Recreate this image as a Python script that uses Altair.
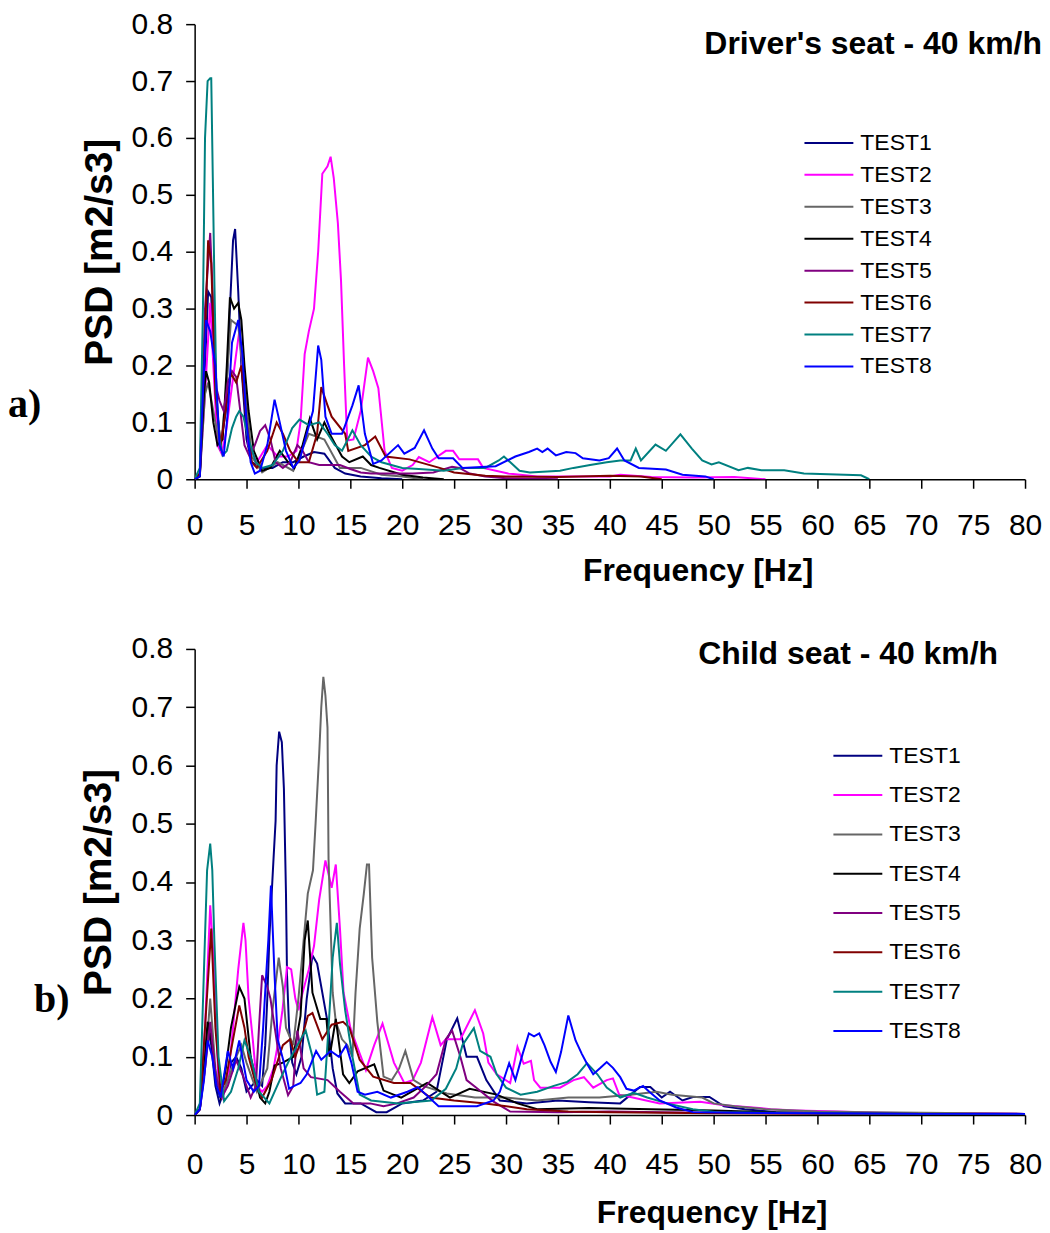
import altair as alt
import pandas as pd

SERIES = ["TEST1", "TEST2", "TEST3", "TEST4", "TEST5", "TEST6", "TEST7", "TEST8"]
COLORS = ["#000080", "#FF00FF", "#666666", "#000000", "#800080", "#800000", "#008080", "#0000FF"]
TITLE_A = "Driver's seat - 40 km/h"
TITLE_B = "Child seat - 40 km/h"
X_TICKS = list(range(0, 81, 5))
Y_TICKS = [0, 0.1, 0.2, 0.3, 0.4, 0.5, 0.6, 0.7, 0.8]

# ---------------- a) Driver's seat ----------------
D1_F = [0, 0.5, 1.0, 1.3, 1.6, 2.0, 2.5, 3.0, 3.4, 3.7, 3.9, 4.2, 4.5, 5.0, 5.5, 6.5, 7.5, 8.5, 9.5, 10.5, 11.5, 12.5, 13.5, 14.5, 16, 18, 20]
D1_V = [0, 0.01, 0.2, 0.33, 0.32, 0.15, 0.06, 0.12, 0.3, 0.42, 0.44, 0.33, 0.2, 0.07, 0.03, 0.02, 0.02, 0.03, 0.03, 0.04, 0.048, 0.045, 0.02, 0.01, 0.005, 0.002, 0]

D2_F = [0, 0.5, 1.0, 1.5, 1.8, 2.2, 2.6, 3.0, 3.5, 4.0, 4.3, 4.7, 5.2, 6.0, 7.0, 8.0, 9.0, 9.8, 10.2, 10.6, 11.0, 11.5, 11.9, 12.3, 12.8, 13.1, 13.4, 13.8, 14.1, 14.4, 14.7, 15.3, 16.0, 16.7, 17.2, 17.7, 18.3, 19, 20, 21, 21.6, 22.6, 24.2, 24.9, 25.5, 27.3, 27.8, 30.2, 33, 40, 41, 44, 48, 52, 55]
D2_V = [0, 0.01, 0.15, 0.31, 0.2, 0.06, 0.045, 0.08, 0.15, 0.22, 0.26, 0.18, 0.06, 0.03, 0.06, 0.04, 0.04, 0.05, 0.1, 0.22, 0.26, 0.30, 0.40, 0.537, 0.55, 0.567, 0.53, 0.45, 0.35, 0.2, 0.068, 0.07, 0.12, 0.214, 0.19, 0.16, 0.05, 0.02, 0.015, 0.025, 0.039, 0.03, 0.05, 0.05, 0.035, 0.035, 0.02, 0.01, 0.005, 0.005, 0.008, 0.004, 0.003, 0.004, 0]

D3_F = [0, 0.5, 1.0, 1.3, 2.0, 2.5, 3.0, 3.5, 4.2, 4.8, 5.5, 6.5, 8.0, 9.5, 11.0, 12.5, 14, 16, 18, 20, 22]
D3_V = [0, 0.005, 0.15, 0.17, 0.1, 0.05, 0.15, 0.28, 0.27, 0.17, 0.04, 0.012, 0.03, 0.015, 0.08, 0.07, 0.02, 0.02, 0.008, 0.005, 0]

D4_F = [0, 0.5, 0.9, 1.1, 1.4, 1.8, 2.2, 2.7, 3.1, 3.4, 3.8, 4.2, 4.5, 4.8, 5.2, 5.7, 6.5, 7.3, 8.2, 9.0, 9.6, 10.4, 11.1, 11.8, 12.5, 13.0, 13.6, 14.2, 14.9, 16.2, 17.0, 17.8, 20, 22, 24]
D4_V = [0, 0.005, 0.15, 0.19, 0.17, 0.1, 0.06, 0.07, 0.2, 0.32, 0.3, 0.31, 0.28, 0.2, 0.12, 0.05, 0.015, 0.02, 0.05, 0.03, 0.02, 0.06, 0.107, 0.07, 0.1, 0.08, 0.06, 0.04, 0.03, 0.04, 0.025, 0.02, 0.008, 0.003, 0]

D5_F = [0, 0.5, 1.0, 1.5, 1.8, 2.1, 2.4, 2.8, 3.2, 3.6, 4.0, 4.4, 4.8, 5.3, 5.8, 6.3, 6.8, 7.3, 7.8, 8.5, 9.2, 9.9, 10.4, 11, 12, 13, 14, 15, 16, 17, 19, 21, 23, 24.8, 25.5, 26.5, 28, 30, 35]
D5_V = [0, 0.01, 0.3, 0.433, 0.3, 0.16, 0.138, 0.12, 0.17, 0.19, 0.18, 0.12, 0.06, 0.04, 0.06, 0.085, 0.095, 0.07, 0.03, 0.02, 0.03, 0.06, 0.05, 0.03, 0.025, 0.025, 0.025, 0.018, 0.012, 0.01, 0.01, 0.01, 0.012, 0.022, 0.02, 0.01, 0.005, 0.002, 0]

D6_F = [0, 0.5, 1.0, 1.3, 1.6, 2.0, 2.5, 3.0, 3.5, 4.0, 4.5, 5.0, 5.5, 6.0, 7.0, 7.9, 8.5, 9.2, 10, 11, 11.8, 12.2, 12.8, 13.2, 14.5, 14.8, 16.4, 17.4, 18.4, 20.7, 23.6, 25, 28, 30, 35, 40, 43, 45]
D6_V = [0, 0.01, 0.25, 0.42, 0.38, 0.15, 0.06, 0.12, 0.186, 0.17, 0.2, 0.1, 0.03, 0.02, 0.05, 0.1, 0.08, 0.05, 0.03, 0.03, 0.08, 0.162, 0.13, 0.11, 0.08, 0.05, 0.06, 0.075, 0.04, 0.035, 0.02, 0.012, 0.006, 0.005, 0.004, 0.006, 0.005, 0]

D7_F = [0, 0.5, 0.8, 1.0, 1.25, 1.5, 1.6, 1.75, 1.9, 2.1, 2.4, 2.7, 3.1, 3.6, 4.0, 4.3, 4.7, 5.2, 5.9, 6.5, 7.5, 8.5, 9.4, 10.1, 11, 12, 12.8, 13.5, 14.2, 15.2, 16, 17, 18, 20, 21.6, 24, 25.8, 28, 29.3, 29.8, 31.3, 32.3, 35.2, 36.5, 38.1, 39.7, 41.0, 42.0, 42.5, 43.0, 44.4, 45.4, 46.8, 47.9, 48.9, 49.8, 50.5, 52.4, 53.3, 54.6, 56.8, 58.7, 64.2, 65]
D7_V = [0, 0.02, 0.3, 0.6, 0.7, 0.705, 0.705, 0.53, 0.35, 0.15, 0.07, 0.042, 0.05, 0.09, 0.11, 0.12, 0.11, 0.07, 0.03, 0.02, 0.025, 0.05, 0.09, 0.105, 0.095, 0.1, 0.08, 0.06, 0.05, 0.086, 0.06, 0.04, 0.03, 0.02, 0.018, 0.015, 0.02, 0.02, 0.033, 0.04, 0.015, 0.012, 0.015, 0.02, 0.025, 0.03, 0.033, 0.033, 0.054, 0.033, 0.061, 0.05, 0.079, 0.054, 0.033, 0.026, 0.03, 0.016, 0.02, 0.016, 0.016, 0.01, 0.007, 0]

D8_F = [0, 0.5, 0.8, 1.1, 1.5, 2.0, 2.4, 2.8, 3.2, 3.6, 4.2, 4.6, 5.0, 5.4, 5.8, 6.3, 7.0, 7.7, 8.2, 8.8, 9.5, 10.1, 11.4, 11.9, 12.2, 12.6, 13.2, 14.2, 15.2, 15.8, 16.4, 17.2, 18.0, 19.6, 20.2, 21.2, 22.1, 22.9, 23.5, 24.9, 25.8, 29.0, 30.9, 32.2, 33.0, 33.5, 34.0, 34.8, 35.8, 36.7, 37.4, 39.0, 39.9, 40.7, 41.4, 42.8, 45.4, 47.0, 49.2, 50]
D8_V = [0, 0.005, 0.15, 0.28, 0.26, 0.2, 0.06, 0.04, 0.12, 0.24, 0.28, 0.22, 0.1, 0.03, 0.01, 0.015, 0.06, 0.14, 0.1, 0.05, 0.02, 0.033, 0.12, 0.235, 0.21, 0.11, 0.08, 0.08, 0.13, 0.165, 0.08, 0.027, 0.033, 0.06, 0.045, 0.055, 0.086, 0.054, 0.037, 0.037, 0.02, 0.023, 0.04, 0.048, 0.054, 0.048, 0.054, 0.042, 0.048, 0.046, 0.037, 0.033, 0.037, 0.054, 0.033, 0.02, 0.017, 0.008, 0.005, 0]

# ---------------- b) Child seat ----------------
C1_F = [0, 0.5, 1.0, 1.25, 1.6, 2.0, 2.4, 3.0, 3.5, 4.0, 4.5, 5.0, 5.5, 6.0, 6.5, 6.8, 7.0, 7.2, 7.6, 7.8, 7.9, 8.14, 8.4, 8.6, 8.8, 8.9, 9.1, 9.4, 9.8, 10.3, 10.8, 11.35, 11.8, 12.3, 12.8, 13.3, 13.75, 14.5, 16, 17.5, 18.5, 20, 22, 23.3, 24.3, 25.3, 26.2, 27.2, 28.1, 29.4, 32, 35, 38, 41, 42.9, 43.9, 45, 45.8, 47, 48, 49.6, 51, 53, 56, 60, 70, 80]
C1_V = [0, 0.01, 0.1, 0.15, 0.12, 0.05, 0.02, 0.05, 0.09, 0.1, 0.08, 0.04, 0.05, 0.06, 0.05, 0.12, 0.2, 0.305, 0.44, 0.505, 0.6, 0.658, 0.64, 0.56, 0.38, 0.24, 0.15, 0.09, 0.07, 0.1, 0.2, 0.274, 0.26, 0.21, 0.16, 0.08, 0.037, 0.02, 0.02, 0.005, 0.005, 0.02, 0.025, 0.04, 0.13, 0.166, 0.1, 0.1, 0.06, 0.025, 0.02, 0.025, 0.022, 0.02, 0.048, 0.048, 0.03, 0.04, 0.025, 0.031, 0.031, 0.015, 0.01, 0.005, 0.004, 0.003, 0.002]

C2_F = [0, 0.5, 1.0, 1.5, 1.9, 2.3, 2.7, 3.2, 3.7, 4.2, 4.7, 4.9, 5.2, 5.6, 6.0, 6.5, 7.0, 7.6, 8.0, 8.46, 8.9, 9.3, 9.7, 10.0, 10.4, 11.0, 11.5, 12.0, 12.6, 13.2, 13.6, 14.0, 14.35, 15.0, 15.5, 16.5, 17.3, 18.1, 19.2, 20.2, 21.0, 21.8, 22.9, 23.7, 24.2, 25.6, 27.0, 27.8, 28.3, 29.1, 30.4, 31.1, 31.7, 32.4, 32.7, 33.3, 35.2, 36.5, 37.5, 38.4, 39.7, 40.3, 40.9, 42.2, 44.8, 48.7, 51, 54.4, 55.5, 58, 62, 66, 70, 75, 80]
C2_V = [0, 0.01, 0.15, 0.36, 0.25, 0.05, 0.03, 0.06, 0.15, 0.25, 0.33, 0.3, 0.2, 0.13, 0.05, 0.04, 0.05, 0.08, 0.12, 0.18, 0.254, 0.25, 0.2, 0.18, 0.21, 0.25, 0.29, 0.37, 0.437, 0.39, 0.43, 0.32, 0.21, 0.15, 0.125, 0.077, 0.12, 0.157, 0.09, 0.055, 0.06, 0.09, 0.168, 0.12, 0.13, 0.13, 0.18, 0.14, 0.09, 0.07, 0.055, 0.117, 0.088, 0.093, 0.06, 0.047, 0.047, 0.06, 0.065, 0.047, 0.06, 0.063, 0.035, 0.03, 0.02, 0.023, 0.017, 0.012, 0.01, 0.008, 0.006, 0.004, 0.003, 0.003, 0.002]

C3_F = [0, 0.5, 1.0, 1.5, 2.0, 2.5, 3.0, 4.0, 4.5, 5.0, 6.0, 7.0, 7.5, 8.1, 8.5, 8.8, 9.5, 10.0, 10.5, 10.9, 11.4, 11.65, 12.0, 12.2, 12.4, 12.6, 12.8, 12.9, 13.3, 13.6, 14.2, 14.7, 15.2, 15.5, 15.9, 16.3, 16.6, 16.8, 17.1, 17.6, 18.2, 19.0, 19.7, 20.3, 21.1, 22, 24.3, 27, 30, 33, 36, 39, 42, 44.5, 46, 48.9, 50, 52, 55, 60, 65, 70, 75, 80]
C3_V = [0, 0.01, 0.08, 0.2, 0.08, 0.03, 0.05, 0.1, 0.12, 0.09, 0.04, 0.08, 0.18, 0.27, 0.22, 0.15, 0.12, 0.2, 0.3, 0.38, 0.42, 0.5, 0.62, 0.7, 0.752, 0.72, 0.665, 0.44, 0.21, 0.16, 0.13, 0.12, 0.1, 0.21, 0.32, 0.38, 0.43, 0.43, 0.27, 0.16, 0.066, 0.06, 0.08, 0.11, 0.06, 0.05, 0.037, 0.03, 0.03, 0.025, 0.03, 0.03, 0.035, 0.04, 0.035, 0.03, 0.02, 0.015, 0.01, 0.006, 0.005, 0.004, 0.003, 0.002]

C4_F = [0, 0.5, 1.0, 1.25, 1.7, 2.1, 2.5, 3.0, 3.5, 4.3, 4.8, 5.4, 6.3, 6.8, 7.2, 7.7, 8.5, 9.5, 10.2, 10.6, 10.9, 11.35, 12.1, 12.7, 13.0, 13.6, 14.3, 14.9, 15.7, 17.3, 18.2, 19.9, 22.4, 24.6, 26.5, 29.1, 31.1, 33, 38, 44, 50, 55, 60, 70, 80]
C4_V = [0, 0.01, 0.1, 0.16, 0.12, 0.05, 0.03, 0.08, 0.15, 0.22, 0.2, 0.1, 0.03, 0.02, 0.04, 0.085, 0.09, 0.1, 0.17, 0.3, 0.334, 0.21, 0.165, 0.165, 0.1, 0.165, 0.07, 0.055, 0.075, 0.087, 0.042, 0.03, 0.055, 0.03, 0.045, 0.035, 0.02, 0.01, 0.012, 0.01, 0.008, 0.005, 0.003, 0.002, 0.002]

C5_F = [0, 0.5, 1.0, 1.5, 2.0, 2.6, 3.2, 4.0, 4.6, 5.4, 5.9, 6.2, 6.5, 7.0, 7.3, 7.8, 8.3, 9.0, 9.5, 9.9, 10.5, 11.2, 12.8, 14.0, 15.3, 16.9, 18.2, 19.5, 21.1, 22.3, 23.3, 24.2, 24.8, 25.6, 26.2, 27.2, 28.8, 30.4, 35, 40, 45, 50, 60, 70, 80]
C5_V = [0, 0.01, 0.08, 0.16, 0.07, 0.03, 0.05, 0.094, 0.07, 0.03, 0.05, 0.15, 0.24, 0.22, 0.2, 0.14, 0.08, 0.034, 0.05, 0.145, 0.08, 0.065, 0.06, 0.04, 0.02, 0.02, 0.015, 0.02, 0.03, 0.05, 0.07, 0.13, 0.145, 0.1, 0.06, 0.046, 0.023, 0.006, 0.005, 0.006, 0.005, 0.004, 0.003, 0.002, 0.002]

C6_F = [0, 0.5, 1.0, 1.6, 2.0, 2.5, 3.0, 3.6, 4.3, 4.8, 5.2, 5.8, 6.5, 7.4, 8.5, 9.2, 9.7, 10.3, 10.9, 11.35, 12.3, 13.2, 14.3, 14.9, 15.9, 17.2, 19.2, 20.8, 22.7, 25, 28, 32, 36, 40, 45, 50, 60, 70, 80]
C6_V = [0, 0.01, 0.15, 0.32, 0.15, 0.04, 0.06, 0.12, 0.188, 0.15, 0.1, 0.06, 0.03, 0.06, 0.12, 0.13, 0.1, 0.13, 0.17, 0.175, 0.13, 0.155, 0.16, 0.15, 0.095, 0.066, 0.055, 0.055, 0.03, 0.025, 0.02, 0.01, 0.006, 0.005, 0.004, 0.003, 0.002, 0.002, 0.002]

C7_F = [0, 0.5, 0.9, 1.2, 1.5, 1.7, 1.9, 2.3, 2.84, 3.5, 4.2, 4.8, 5.4, 6.2, 7.2, 8.2, 9.0, 9.9, 10.7, 11.35, 11.8, 12.5, 12.9, 13.3, 13.7, 14.0, 14.5, 15.2, 15.9, 17.0, 19.6, 22.8, 24.2, 25.2, 25.8, 26.9, 27.5, 28.5, 29.1, 30.0, 31.4, 33.0, 34.6, 35.9, 36.9, 37.8, 38.8, 39.7, 41.0, 42.3, 43.6, 45.5, 48, 50.3, 55, 60, 70, 80]
C7_V = [0, 0.02, 0.25, 0.42, 0.466, 0.42, 0.3, 0.1, 0.024, 0.04, 0.08, 0.128, 0.1, 0.04, 0.02, 0.06, 0.09, 0.12, 0.145, 0.1, 0.035, 0.04, 0.15, 0.27, 0.33, 0.26, 0.18, 0.1, 0.035, 0.025, 0.02, 0.025, 0.045, 0.08, 0.12, 0.149, 0.11, 0.1, 0.07, 0.047, 0.035, 0.04, 0.05, 0.057, 0.07, 0.089, 0.07, 0.047, 0.03, 0.038, 0.03, 0.02, 0.01, 0.005, 0.004, 0.003, 0.002, 0.002]

C8_F = [0, 0.5, 0.9, 1.25, 1.7, 2.1, 2.5, 3.2, 3.7, 4.3, 5.0, 5.7, 6.2, 6.6, 6.9, 7.1, 7.35, 7.7, 8.0, 8.6, 9.1, 9.6, 10.2, 10.8, 11.7, 12.2, 13.1, 13.9, 14.6, 15.1, 15.7, 16.4, 17.6, 18.9, 20.5, 21.5, 23.5, 25.6, 27.2, 28.8, 29.4, 30.3, 30.9, 31.6, 32.2, 32.7, 33.2, 33.7, 34.3, 34.8, 35.3, 36.0, 36.7, 37.3, 37.8, 38.4, 39.1, 39.7, 40.3, 41.0, 41.6, 42.3, 43.2, 43.8, 44.8, 46.4, 48, 52, 60, 70, 80]
C8_V = [0, 0.01, 0.06, 0.128, 0.1, 0.05, 0.03, 0.11, 0.08, 0.128, 0.06, 0.04, 0.05, 0.15, 0.243, 0.3, 0.394, 0.24, 0.13, 0.09, 0.045, 0.05, 0.055, 0.07, 0.11, 0.095, 0.11, 0.1, 0.12, 0.09, 0.04, 0.035, 0.04, 0.03, 0.04, 0.048, 0.015, 0.015, 0.015, 0.025, 0.04, 0.089, 0.06, 0.105, 0.14, 0.135, 0.14, 0.12, 0.091, 0.074, 0.108, 0.171, 0.128, 0.105, 0.088, 0.07, 0.081, 0.091, 0.081, 0.065, 0.045, 0.042, 0.05, 0.04, 0.025, 0.013, 0.005, 0.004, 0.003, 0.002, 0.002]

DRIVER = [(D1_F, D1_V), (D2_F, D2_V), (D3_F, D3_V), (D4_F, D4_V), (D5_F, D5_V), (D6_F, D6_V), (D7_F, D7_V), (D8_F, D8_V)]
CHILD = [(C1_F, C1_V), (C2_F, C2_V), (C3_F, C3_V), (C4_F, C4_V), (C5_F, C5_V), (C6_F, C6_V), (C7_F, C7_V), (C8_F, C8_V)]


def to_frame(pairs):
    rows = []
    for i, (fs, vs) in enumerate(pairs):
        for f, v in zip(fs, vs):
            rows.append({"series": SERIES[i], "idx": i, "f": f, "v": v})
    return pd.DataFrame(rows)


FONT = "Liberation Sans"
W = 832


def panel(pairs, height, title, title_x, title_y, tag, tag_x, tag_y,
          leg_x, leg_y, leg_pad, xlab_pad, xtitle_x, xtitle_y, ytitle_x):
    df = to_frame(pairs)
    lines = alt.Chart(df).mark_line(strokeWidth=2, clip=True).encode(
        x=alt.X("f:Q", scale=alt.Scale(domain=[0, 80], nice=False),
                axis=alt.Axis(values=X_TICKS, title="Frequency [Hz]", labelFlush=False,
                              labelPadding=xlab_pad, titleX=xtitle_x, titleY=xtitle_y,
                              titleAlign="center", titleBaseline="middle", titleFontSize=32)),
        y=alt.Y("v:Q", scale=alt.Scale(domain=[0, 0.8], nice=False),
                axis=alt.Axis(values=Y_TICKS, format="~g", title="PSD [m2/s3]",
                              labelPadding=13, titleX=ytitle_x, titleY=height / 2,
                              titleAlign="center", titleBaseline="middle", titleAngle=-90,
                              titleFontSize=39)),
        color=alt.Color("series:N",
                        scale=alt.Scale(domain=SERIES, range=COLORS),
                        legend=alt.Legend(orient="none", legendX=leg_x, legendY=leg_y,
                                          title=None, symbolType="stroke", symbolSize=2400,
                                          symbolStrokeWidth=2, labelFontSize=23,
                                          labelFont=FONT, labelColor="black",
                                          labelOffset=6, rowPadding=leg_pad,
                                          clipHeight=26, padding=0)),
        order=alt.Order("f:Q"),
        detail="series:N",
    )
    ttl = alt.Chart(pd.DataFrame({"t": [title]})).mark_text(
        align="right", baseline="middle", fontSize=32, fontWeight="bold", font=FONT,
        color="black").encode(text="t:N", x=alt.value(title_x), y=alt.value(title_y))
    lab = alt.Chart(pd.DataFrame({"t": [tag]})).mark_text(
        align="left", baseline="middle", fontSize=40, fontWeight="bold",
        font="Liberation Serif", color="black").encode(
        text="t:N", x=alt.value(tag_x), y=alt.value(tag_y))
    return alt.layer(lines, ttl, lab).properties(width=W, height=height)


top = panel(DRIVER, 456, TITLE_A, 849, 20, "a)", -187, 382,
            610, 106, 6, 22, 504, 91, -95)
bottom = panel(CHILD, 467, TITLE_B, 805, 5, "b)", -161, 352,
               639, 94, 13.4, 26, 518, 98, -96)

chart = alt.vconcat(top, bottom, spacing=48).resolve_legend(color="independent").properties(
    padding={"left": 0, "top": 0, "right": 0, "bottom": 0}
).configure_view(stroke=None).configure_axis(
    grid=False, domainColor="black", domainWidth=1.5, tickColor="black", tickWidth=1.5,
    tickSize=9, labelFont=FONT, labelFontSize=30, labelColor="black",
    titleFont=FONT, titleFontSize=32, titleFontWeight="bold", titleColor="black"
)

chart.save("out.html", embed_options={"renderer": "svg", "actions": False})
